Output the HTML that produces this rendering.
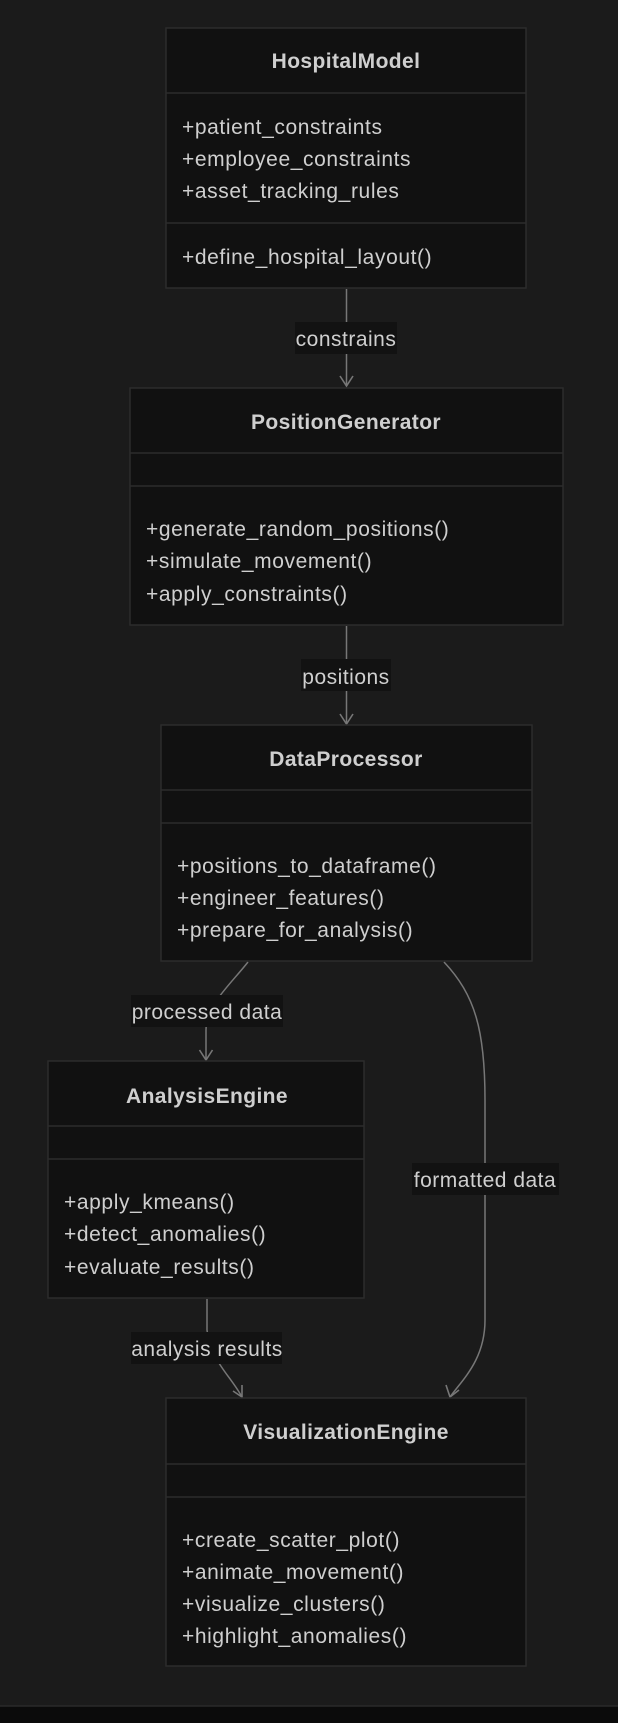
<!DOCTYPE html>
<html><head><meta charset="utf-8"><style>
html,body{margin:0;padding:0;background:#1b1b1b;}
svg{display:block;}
text{font-family:"Liberation Sans",sans-serif;fill:#cfcfcf;}
.t{font-weight:bold;font-size:21px;text-anchor:middle;letter-spacing:0.4px;}
.m{font-size:21px;letter-spacing:0.6px;}
.l{font-size:21px;text-anchor:middle;letter-spacing:0.5px;}
.box{fill:#111111;stroke:#2c2c2c;stroke-width:1.5;}
.dv{stroke:#2c2c2c;stroke-width:1.5;}
.e{fill:none;stroke:#777;stroke-width:1.5;}
.lb{fill:#121212;}
</style></head><body>
<svg width="618" height="1723" viewBox="0 0 618 1723" xmlns="http://www.w3.org/2000/svg">
<rect x="0" y="0" width="618" height="1723" fill="#1b1b1b"/>
<rect x="0" y="1706" width="618" height="17" fill="#0b0b0b"/>
<line x1="0" y1="1706" x2="618" y2="1706" stroke="#2a2a2a" stroke-width="1.5"/>

<!-- edges -->
<path class="e" d="M346.5,289 L346.5,386"/>
<rect class="lb" x="295" y="322" width="102" height="32"/>
<text class="l" x="346" y="346">constrains</text>

<path class="e" d="M346.5,626 L346.5,724"/>
<rect class="lb" x="301" y="659" width="90" height="32"/>
<text class="l" x="346" y="684">positions</text>

<path class="e" d="M248,962 C230,985 206,1005 206,1030 L206,1060"/>
<rect class="lb" x="131" y="995" width="152" height="32"/>
<text class="l" x="207" y="1019">processed data</text>

<path class="e" d="M444,962 C475,995 485,1030 485,1100 L485,1320 C485,1360 462,1380 450,1397"/>
<rect class="lb" x="412" y="1163" width="147" height="32"/>
<text class="l" x="485" y="1187">formatted data</text>

<path class="e" d="M207,1299 L207,1330 C210,1360 230,1375 242,1397"/>
<rect class="lb" x="131" y="1332" width="151" height="32"/>
<text class="l" x="207" y="1356">analysis results</text>

<!-- arrowheads -->
<path d="M340,376 L346.5,386 L353,376" fill="none" stroke="#777" stroke-width="1.6"/>
<path d="M340,714 L346.5,724 L353,714" fill="none" stroke="#777" stroke-width="1.6"/>
<path d="M199.5,1050 L206,1060 L212.5,1050" fill="none" stroke="#777" stroke-width="1.6"/>
<path d="M446,1385 L450,1397 L459,1390" fill="none" stroke="#777" stroke-width="1.6"/>
<path d="M233,1391 L242,1397 L242,1385" fill="none" stroke="#777" stroke-width="1.6"/>

<!-- HospitalModel -->
<rect class="box" x="166" y="28" width="360" height="260"/>
<line class="dv" x1="166" y1="93" x2="526" y2="93"/>
<line class="dv" x1="166" y1="223" x2="526" y2="223"/>
<text class="t" x="346" y="68">HospitalModel</text>
<text class="m" x="182" y="134">+patient_constraints</text>
<text class="m" x="182" y="166">+employee_constraints</text>
<text class="m" x="182" y="198">+asset_tracking_rules</text>
<text class="m" x="182" y="264">+define_hospital_layout()</text>

<!-- PositionGenerator -->
<rect class="box" x="130" y="388" width="433" height="237"/>
<line class="dv" x1="130" y1="453" x2="563" y2="453"/>
<line class="dv" x1="130" y1="486" x2="563" y2="486"/>
<text class="t" x="346" y="429">PositionGenerator</text>
<text class="m" x="146" y="536">+generate_random_positions()</text>
<text class="m" x="146" y="568">+simulate_movement()</text>
<text class="m" x="146" y="601">+apply_constraints()</text>

<!-- DataProcessor -->
<rect class="box" x="161" y="725" width="371" height="236"/>
<line class="dv" x1="161" y1="790" x2="532" y2="790"/>
<line class="dv" x1="161" y1="823" x2="532" y2="823"/>
<text class="t" x="346" y="766">DataProcessor</text>
<text class="m" x="177" y="873">+positions_to_dataframe()</text>
<text class="m" x="177" y="905">+engineer_features()</text>
<text class="m" x="177" y="937">+prepare_for_analysis()</text>

<!-- AnalysisEngine -->
<rect class="box" x="48" y="1061" width="316" height="237"/>
<line class="dv" x1="48" y1="1126" x2="364" y2="1126"/>
<line class="dv" x1="48" y1="1159" x2="364" y2="1159"/>
<text class="t" x="207" y="1103">AnalysisEngine</text>
<text class="m" x="64" y="1209">+apply_kmeans()</text>
<text class="m" x="64" y="1241">+detect_anomalies()</text>
<text class="m" x="64" y="1274">+evaluate_results()</text>

<!-- VisualizationEngine -->
<rect class="box" x="166" y="1398" width="360" height="268"/>
<line class="dv" x1="166" y1="1464" x2="526" y2="1464"/>
<line class="dv" x1="166" y1="1497" x2="526" y2="1497"/>
<text class="t" x="346" y="1439">VisualizationEngine</text>
<text class="m" x="182" y="1547">+create_scatter_plot()</text>
<text class="m" x="182" y="1579">+animate_movement()</text>
<text class="m" x="182" y="1611">+visualize_clusters()</text>
<text class="m" x="182" y="1643">+highlight_anomalies()</text>
</svg>
</body></html>
